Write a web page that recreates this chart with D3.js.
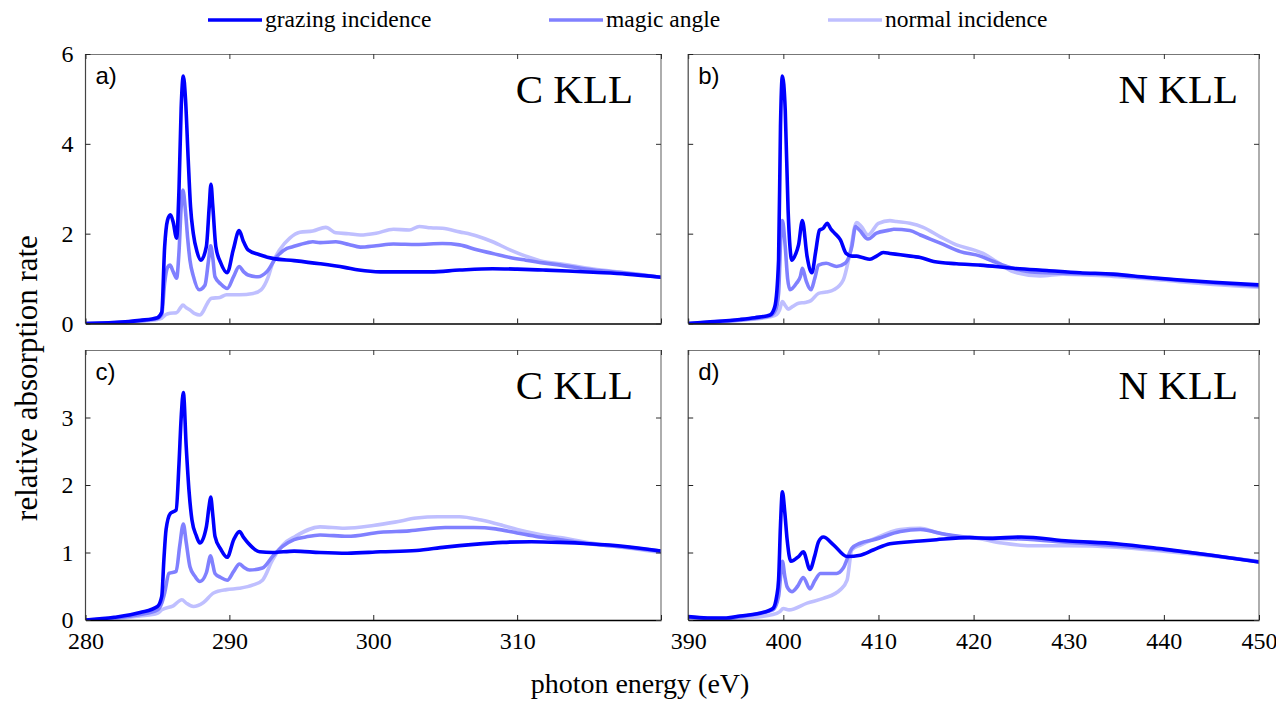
<!DOCTYPE html>
<html><head><meta charset="utf-8">
<script src="https://cdn.jsdelivr.net/npm/d3@7"></script>
<style>body{margin:0;background:#fff}svg{display:block}</style>
</head><body>
<svg id="chart" width="1276" height="702"></svg>
<script>
// ---- data ----
const seriesNames = ["grazing incidence", "magic angle", "normal incidence"];
const panelLabels = ["a)", "b)", "c)", "d)"];
const panelTitles = ["C KLL", "N KLL", "C KLL", "N KLL"];
const xTicksC = [280, 290, 300, 310, 320];
const xTickLabelsC = ["280", "290", "300", "310"];
const xTicksN = [390, 400, 410, 420, 430, 440, 450];
const xTickLabelsN = ["390", "400", "410", "420", "430", "440", "450"];
const yTicksTop = [0, 2, 4, 6];
const yTicksBottom = [0, 1, 2, 3];

// panel a (C KLL, top)
const aGrazing = [[280,0],[282,0.02],[283.8,0.07],[285,0.13],[285.3,0.25],[285.5,1.7],[285.7,2.3],[285.9,2.42],[286.1,2.25],[286.33,1.9],[286.5,3.0],[286.65,4.8],[286.8,5.51],[286.95,5.0],[287.14,3.64],[287.3,2.6],[287.49,2.01],[287.75,1.6],[288.02,1.41],[288.4,1.71],[288.6,2.6],[288.72,3.1],[288.85,2.6],[289.06,1.71],[289.4,1.35],[289.85,1.13],[290.27,1.64],[290.68,2.07],[290.95,1.85],[291.3,1.64],[292.1,1.53],[293,1.45],[294.5,1.4],[296.3,1.33],[298,1.25],[299,1.19],[300.5,1.15],[302,1.15],[304,1.15],[306,1.19],[308.3,1.22],[310,1.21],[311.8,1.19],[313.5,1.17],[315.3,1.14],[317.6,1.1],[320,1.03]];
const aMagic = [[280,0],[282,0.02],[283.8,0.06],[285,0.11],[285.3,0.2],[285.5,0.9],[285.7,1.25],[285.87,1.3],[286.1,1.15],[286.33,1.01],[286.5,1.6],[286.65,2.6],[286.77,2.97],[286.95,2.5],[287.1,1.9],[287.26,1.41],[287.5,1.05],[287.9,0.75],[288.3,0.85],[288.55,1.4],[288.7,1.73],[288.85,1.45],[289.0,1.04],[289.4,0.88],[289.85,0.78],[290.3,1.05],[290.68,1.27],[291.0,1.15],[291.3,1.08],[292.0,1.04],[292.6,1.15],[293.3,1.49],[294.0,1.67],[294.4,1.71],[295.4,1.8],[295.8,1.82],[296.3,1.8],[297.4,1.82],[298.3,1.76],[299.1,1.7],[300.2,1.73],[301.4,1.77],[303,1.76],[304.8,1.78],[306,1.75],[307.2,1.64],[308.3,1.56],[309.5,1.47],[310.6,1.41],[311.8,1.35],[313,1.3],[315.3,1.19],[317.6,1.12],[320,1.03]];
const aNormal = [[280,0],[283.8,0.05],[285,0.09],[285.3,0.12],[285.6,0.2],[285.87,0.23],[286.33,0.24],[286.6,0.35],[286.77,0.41],[287.0,0.35],[287.26,0.3],[287.6,0.22],[287.95,0.19],[288.2,0.28],[288.4,0.41],[288.76,0.56],[289.34,0.58],[289.8,0.64],[290.7,0.64],[291.65,0.67],[292.2,0.75],[292.7,1.04],[293.0,1.34],[293.5,1.64],[294.2,1.9],[294.9,2.03],[295.8,2.06],[296.7,2.14],[297.4,2.02],[298.3,2.0],[299.1,1.97],[300.2,2.01],[301.4,2.1],[302.5,2.08],[303.2,2.16],[304.0,2.13],[304.8,2.12],[306,2.04],[307.2,1.95],[308.3,1.82],[309.5,1.64],[310.6,1.5],[311.8,1.38],[313,1.33],[315.3,1.21],[317.6,1.13],[320,1.03]];

// panel b (N KLL, top)
const bGrazing = [[390,0],[392,0.03],[395.45,0.09],[397,0.13],[398.6,0.19],[399.1,0.37],[399.5,1.41],[399.7,4.38],[399.9,5.51],[400.2,4.75],[400.5,2.53],[400.9,1.41],[401.3,1.55],[401.6,1.75],[402.0,2.29],[402.5,1.49],[403.0,1.13],[403.4,1.6],[403.8,2.08],[404.2,2.12],[404.6,2.23],[405.0,2.1],[405.4,2.01],[406.0,1.86],[406.6,1.56],[407.2,1.5],[407.7,1.5],[408.3,1.47],[409.1,1.43],[409.8,1.5],[410.5,1.58],[411.2,1.56],[412.3,1.53],[413.7,1.49],[414.4,1.47],[415.8,1.38],[418.2,1.33],[420.7,1.3],[424.2,1.23],[427.7,1.18],[431.2,1.13],[434.7,1.1],[438.2,1.03],[441.7,0.97],[445.2,0.92],[450,0.86]];
const bMagic = [[390,0],[395.45,0.08],[398.6,0.17],[399.2,0.3],[399.5,0.67],[399.75,2.0],[399.9,2.29],[400.2,1.71],[400.45,1.0],[400.7,0.75],[401.4,0.9],[401.8,1.05],[402.0,1.23],[402.4,0.95],[402.9,0.75],[403.3,1.0],[403.7,1.3],[404.5,1.34],[405.6,1.27],[406.5,1.34],[407.2,1.71],[407.6,2.16],[408.0,2.08],[408.9,1.88],[409.8,2.01],[411.2,2.08],[411.6,2.1],[413.3,2.07],[414.4,1.97],[416.5,1.79],[418.6,1.6],[420.7,1.5],[422.1,1.38],[423.5,1.27],[426.0,1.15],[429.4,1.12],[434.7,1.08],[438.2,1.02],[441.7,0.96],[445.2,0.9],[450,0.83]];
const bNormal = [[390,0],[395.45,0.07],[398.6,0.15],[399.3,0.2],[399.6,0.3],[399.9,0.49],[400.2,0.4],[400.5,0.32],[401.0,0.38],[401.6,0.45],[402.3,0.47],[402.9,0.51],[403.7,0.67],[404.5,0.7],[405.3,0.75],[406.3,0.97],[407.0,1.56],[407.7,2.25],[408.2,2.16],[408.9,1.97],[410.0,2.23],[411.2,2.29],[411.9,2.27],[413.3,2.23],[414.7,2.14],[416.5,1.93],[418.2,1.75],[420.0,1.64],[421.0,1.56],[422.4,1.38],[424.2,1.15],[427.0,1.06],[429.4,1.1],[434.7,1.05],[438.2,1.0],[441.7,0.93],[445.2,0.87],[450,0.81]];

// panel c (C KLL, bottom)
const cGrazing = [[280,0],[282,0.04],[283.8,0.11],[285,0.2],[285.3,0.35],[285.45,0.9],[285.6,1.34],[285.9,1.58],[286.3,1.63],[286.5,2.32],[286.65,3.0],[286.8,3.37],[287.0,2.57],[287.2,1.9],[287.4,1.48],[287.7,1.25],[287.95,1.14],[288.4,1.38],[288.6,1.7],[288.7,1.82],[288.85,1.55],[289.0,1.24],[289.4,1.05],[289.85,0.93],[290.3,1.19],[290.7,1.31],[291.0,1.22],[291.3,1.14],[292.1,1.01],[293,1.0],[294.5,1.02],[296.3,1.0],[298.2,0.99],[300.5,1.01],[303,1.03],[305,1.08],[307,1.12],[309,1.15],[311,1.16],[313,1.15],[315,1.13],[317.5,1.09],[320,1.02]];
const cMagic = [[280,0],[282,0.03],[283.8,0.08],[285,0.15],[285.3,0.25],[285.5,0.4],[285.8,0.69],[286.3,0.72],[286.55,1.1],[286.8,1.42],[287.0,1.15],[287.26,0.79],[287.6,0.65],[287.95,0.57],[288.4,0.7],[288.7,0.95],[288.85,0.82],[289.0,0.69],[289.4,0.63],[289.85,0.59],[290.3,0.72],[290.7,0.83],[291.0,0.78],[291.4,0.74],[292.3,0.77],[293.0,0.94],[293.7,1.09],[294.5,1.19],[295.3,1.23],[296.3,1.26],[298.2,1.24],[300.5,1.3],[302.5,1.32],[305,1.37],[307,1.37],[308.5,1.35],[310,1.29],[311.5,1.23],[313,1.19],[315,1.13],[317.5,1.08],[320,1.02]];
const cNormal = [[280,0],[283.8,0.06],[285,0.1],[285.3,0.15],[286.1,0.21],[286.7,0.3],[287.0,0.25],[287.5,0.2],[288.2,0.26],[288.9,0.4],[289.8,0.45],[290.7,0.47],[291.65,0.52],[292.3,0.59],[293.0,0.89],[293.7,1.11],[294.6,1.24],[296.3,1.38],[298,1.36],[300,1.4],[301.5,1.45],[303,1.51],[304.5,1.53],[306,1.53],[307.5,1.48],[309,1.4],[310,1.34],[311.5,1.27],[313,1.22],[316,1.11],[318,1.06],[320,1.0]];

// panel d (N KLL, bottom)
const dGrazing = [[390,0.05],[392,0.03],[394,0.03],[395.45,0.06],[397.5,0.1],[398.9,0.17],[399.3,0.35],[399.5,0.59],[399.7,1.4],[399.9,1.9],[400.15,1.6],[400.4,1.19],[400.8,0.87],[401.6,0.94],[402.1,1.01],[402.8,0.75],[403.3,0.95],[403.7,1.16],[404.2,1.23],[405.3,1.11],[406.7,0.94],[408.1,0.96],[409.5,1.04],[411.2,1.13],[414.4,1.17],[416.1,1.19],[419.6,1.22],[421.7,1.21],[425,1.23],[430,1.17],[435,1.13],[440,1.05],[445,0.96],[450,0.86]];
const dMagic = [[390,0.04],[394,0.02],[395.45,0.05],[398.9,0.15],[399.5,0.35],[399.9,0.87],[400.15,0.65],[400.4,0.49],[400.9,0.42],[401.5,0.5],[402.1,0.63],[402.8,0.46],[403.3,0.58],[403.9,0.69],[405.6,0.69],[406.3,0.77],[407.2,1.06],[408.1,1.14],[409.5,1.19],[412.3,1.31],[414.4,1.34],[417,1.27],[420,1.22],[425,1.2],[430,1.15],[435,1.1],[440,1.04],[445,0.96],[450,0.86]];
const dNormal = [[390,0.03],[394,0.01],[396,0.03],[398.9,0.08],[399.6,0.12],[400,0.17],[400.6,0.15],[402.5,0.25],[404.2,0.32],[406.0,0.45],[406.7,0.59],[407.2,1.04],[408.1,1.11],[409.5,1.2],[412.3,1.34],[414.4,1.36],[416,1.3],[418,1.24],[420,1.22],[423,1.14],[426,1.1],[430,1.1],[435,1.08],[440,1.02],[445,0.95],[450,0.87]];

// ---- layout / style ----
const colors = ["#0000ff", "#8080ff", "#bfbfff"];
const serif = "Liberation Serif";
const sans = "Liberation Sans";
const svg = d3.select("#chart");

const panels = [
  {x0: 85.5, x1: 661, y0: 54, y1: 323.5, xd: [280, 320], yd: [0, 6], xt: xTicksC, xl: null, yt: yTicksTop, yl: true, tx: 28, data: [aGrazing, aMagic, aNormal]},
  {x0: 688.2, x1: 1259, y0: 54, y1: 323.5, xd: [390, 450], yd: [0, 6], xt: xTicksN, xl: null, yt: yTicksTop, yl: false, tx: 21, data: [bGrazing, bMagic, bNormal]},
  {x0: 85.5, x1: 661, y0: 350, y1: 620, xd: [280, 320], yd: [0, 4], xt: xTicksC, xl: xTickLabelsC, yt: yTicksBottom, yl: true, tx: 28, data: [cGrazing, cMagic, cNormal]},
  {x0: 688.2, x1: 1259, y0: 350, y1: 620, xd: [390, 450], yd: [0, 4], xt: xTicksN, xl: xTickLabelsN, yt: yTicksBottom, yl: false, tx: 21, data: [dGrazing, dMagic, dNormal]}
];

panels.forEach((p, i) => {
  const x = d3.scaleLinear().domain(p.xd).range([p.x0, p.x1]);
  const y = d3.scaleLinear().domain(p.yd).range([p.y1, p.y0]);
  const g = svg.append("g");
  const clipId = "clip" + i;
  g.append("clipPath").attr("id", clipId).append("rect")
    .attr("x", p.x0).attr("y", p.y0 - 2).attr("width", p.x1 - p.x0).attr("height", p.y1 - p.y0 + 2);

  const line = d3.line().x(d => x(d[0])).y(d => y(d[1])).curve(d3.curveMonotoneX);
  [2, 1, 0].forEach(s => {
    g.append("path").datum(p.data[s])
      .attr("clip-path", `url(#${clipId})`)
      .attr("d", line).attr("fill", "none")
      .attr("stroke", colors[s]).attr("stroke-width", 3.6)
      .attr("stroke-linejoin", "round").attr("stroke-linecap", "round");
  });

  // frame
  g.append("line").attr("x1", p.x0).attr("x2", p.x1).attr("y1", p.y0 + 0.5).attr("y2", p.y0 + 0.5).attr("stroke", "#777").attr("stroke-width", 1.2);
  g.append("line").attr("x1", p.x1).attr("x2", p.x1).attr("y1", p.y0).attr("y2", p.y1).attr("stroke", "#777").attr("stroke-width", 1.2);
  g.append("line").attr("x1", p.x0).attr("x2", p.x0).attr("y1", p.y0).attr("y2", p.y1).attr("stroke", "#444").attr("stroke-width", 1.2);

  // bottom axis
  const xb = d3.axisBottom(x).tickValues(p.xt).tickSizeInner(-5).tickSizeOuter(0)
    .tickFormat(p.xl ? (d => p.xl.includes(String(d)) ? String(d) : "") : () => "");
  const gx = g.append("g").attr("transform", `translate(0,${p.y1})`).call(xb);
  gx.select(".domain").attr("stroke", "#000").attr("stroke-width", 1.4);
  gx.selectAll(".tick line").attr("stroke", "#222");
  gx.selectAll(".tick text").style("font-family", serif).style("font-size", "24px").attr("fill", "#000").attr("y", 12).attr("dy", "0.71em");

  // top ticks
  const xt = d3.axisTop(x).tickValues(p.xt).tickSizeInner(-5).tickSizeOuter(0).tickFormat(() => "");
  const gt = g.append("g").attr("transform", `translate(0,${p.y0})`).call(xt);
  gt.select(".domain").remove();
  gt.selectAll(".tick line").attr("stroke", "#333");

  // left axis
  const yl = d3.axisLeft(y).tickValues(p.yt).tickSizeInner(-5).tickSizeOuter(0)
    .tickFormat(p.yl ? d3.format("d") : () => "");
  const gy = g.append("g").attr("transform", `translate(${p.x0},0)`).call(yl);
  gy.select(".domain").remove();
  gy.selectAll(".tick line").attr("stroke", "#222");
  gy.selectAll(".tick text").style("font-family", serif).style("font-size", "24px").attr("fill", "#000").attr("x", -12);

  // right ticks
  const yr = d3.axisRight(y).tickValues(p.yt).tickSizeInner(-5).tickSizeOuter(0).tickFormat(() => "");
  const gr = g.append("g").attr("transform", `translate(${p.x1},0)`).call(yr);
  gr.select(".domain").remove();
  gr.selectAll(".tick line").attr("stroke", "#333");

  // labels
  g.append("text").attr("x", p.x0 + 10).attr("y", p.y0 + 30).text(panelLabels[i])
    .style("font-family", sans).style("font-size", "24px").attr("fill", "#000");
  g.append("text").attr("x", p.x1 - p.tx).attr("y", p.y0 + 49).attr("text-anchor", "end").text(panelTitles[i])
    .style("font-family", serif).style("font-size", "41px").attr("fill", "#000");
});

// legend
const legendX = [208, 549, 828];
seriesNames.forEach((n, i) => {
  svg.append("line").attr("x1", legendX[i]).attr("x2", legendX[i] + 54).attr("y1", 20).attr("y2", 20)
    .attr("stroke", colors[i]).attr("stroke-width", 3.6);
  svg.append("text").attr("x", legendX[i] + 57).attr("y", 27).text(n)
    .style("font-family", serif).style("font-size", "23.5px").attr("fill", "#000");
});

// axis titles
svg.append("text").attr("x", 640).attr("y", 693).attr("text-anchor", "middle").text("photon energy (eV)")
  .style("font-family", serif).style("font-size", "28px").attr("fill", "#000");
svg.append("text").attr("transform", "translate(37,378) rotate(-90)").attr("text-anchor", "middle")
  .text("relative absorption rate").style("font-family", serif).style("font-size", "31px").attr("fill", "#000");
</script>
</body></html>
